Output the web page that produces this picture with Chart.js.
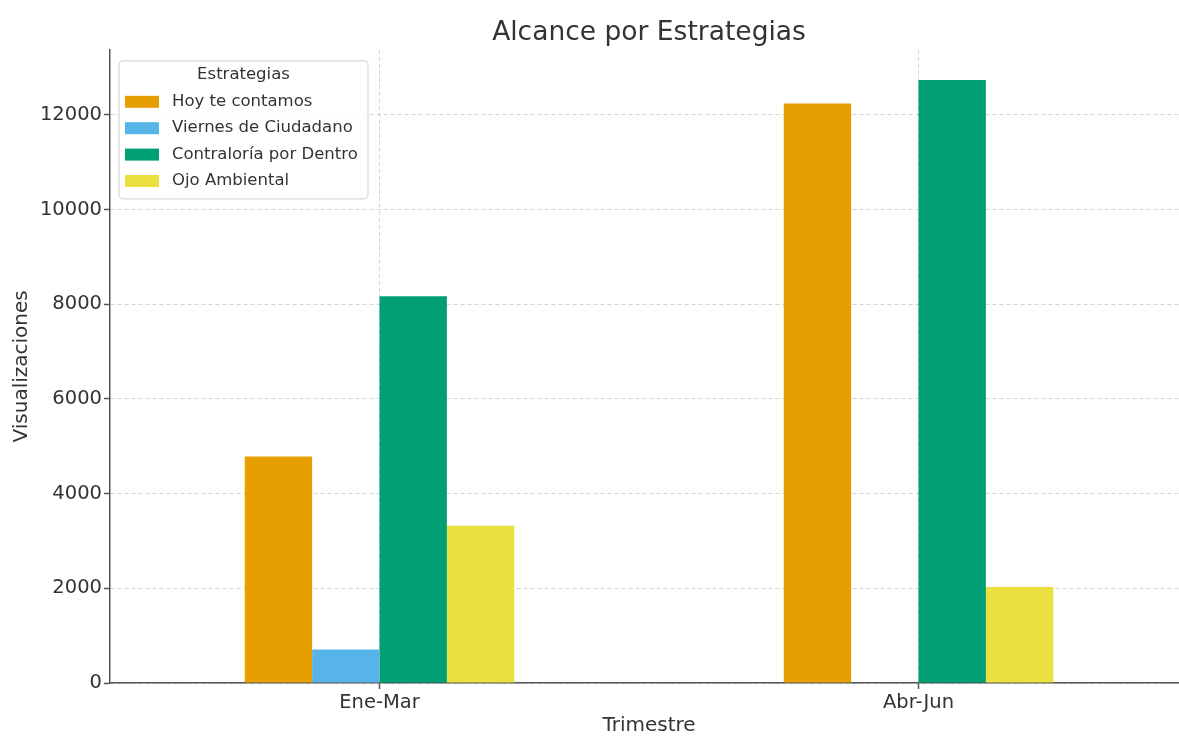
<!DOCTYPE html>
<html>
<head>
<meta charset="utf-8">
<script src="https://cdn.jsdelivr.net/npm/chart.js@4"></script>
<style>
  html, body { margin: 0; padding: 0; background: #fff; overflow: hidden; }
  #wrap { width: 1190px; height: 736px; }
</style>
</head>
<body>
<div id="wrap"><canvas id="js--chart--1"></canvas></div>
<script>
const trimestres = ["Ene-Mar", "Abr-Jun"];

const hoyTeContamos = [4785, 12240];
const viernesCiudadano = [710, 0];
const contraloriaDentro = [8170, 12740];
const ojoAmbiental = [3320, 2030];

const yTicks = [0, 2000, 4000, 6000, 8000, 10000, 12000];

const font = "DejaVu Sans";
const textColor = "#333";

// legend drawn inside the plot, like the original
const boxLegend = {
    id: "boxLegend",
    afterDraw(chart) {
        const ctx = chart.ctx;
        const area = chart.chartArea;
        const x = area.left + 9, y = area.top + 11, w = 249, h = 138;
        ctx.save();
        ctx.fillStyle = "rgba(255,255,255,0.85)";
        ctx.strokeStyle = "#d9d9d9";
        ctx.lineWidth = 1.2;
        ctx.beginPath();
        ctx.roundRect(x, y, w, h, 4);
        ctx.fill();
        ctx.stroke();

        ctx.fillStyle = textColor;
        ctx.font = "16.5px '" + font + "'";
        ctx.textBaseline = "middle";
        ctx.textAlign = "center";
        ctx.fillText("Estrategias", x + w / 2, y + 14);

        ctx.textAlign = "left";
        chart.data.datasets.forEach((ds, i) => {
            const cy = y + 41 + i * 26.4;
            ctx.fillStyle = ds.backgroundColor;
            ctx.fillRect(x + 6, cy - 6, 34, 12);
            ctx.fillStyle = textColor;
            ctx.fillText(ds.label, x + 53, cy);
        });
        ctx.restore();
    }
};

const data = {
    labels: trimestres,
    datasets: [
        { label: "Hoy te contamos", data: hoyTeContamos, backgroundColor: "#E69F00" },
        { label: "Viernes de Ciudadano", data: viernesCiudadano, backgroundColor: "#56B4E9" },
        { label: "Contraloría por Dentro", data: contraloriaDentro, backgroundColor: "#009E73" },
        { label: "Ojo Ambiental", data: ojoAmbiental, backgroundColor: "#EAE03F" },
    ]
};

const config = {
    type: "bar",
    data: data,
    plugins: [boxLegend],
    options: {
        responsive: true,
        maintainAspectRatio: false,
        animation: false,
        categoryPercentage: 0.5,
        barPercentage: 1.0,
        layout: { padding: { left: 0, right: 2, top: 0, bottom: 0 } },
        plugins: {
            legend: { display: false },
            tooltip: { enabled: false },
            title: {
                display: true,
                text: "Alcance por Estrategias",
                fullSize: false,
                color: textColor,
                font: { family: font, size: 26.5, weight: "normal" },
                padding: { top: 17, bottom: 1 }
            }
        },
        scales: {
            x: {
                grid: {
                    offset: false,
                    color: "rgba(0,0,0,0.17)",
                    lineWidth: 1,
                    tickLength: 6,
                    tickColor: "#555",
                    tickWidth: 1.5
                },
                border: { color: "#555", width: 1.5, dash: [4, 3] },
                ticks: { color: textColor, font: { family: font, size: 19.5 }, padding: 2 },
                title: {
                    display: true,
                    text: "Trimestre",
                    color: textColor,
                    font: { family: font, size: 20 },
                    padding: { top: 0, bottom: -2 }
                },
                afterFit(scale) { scale.height = 53; }
            },
            y: {
                min: 0,
                max: 13377,
                grid: {
                    color: "rgba(0,0,0,0.17)",
                    lineWidth: 1,
                    tickLength: 6,
                    tickColor: "#555",
                    tickWidth: 1.5
                },
                border: { color: "#555", width: 1.5, dash: [4, 3] },
                ticks: {
                    stepSize: 2000,
                    includeBounds: false,
                    color: textColor,
                    font: { family: font, size: 19.5 },
                    padding: 2,
                    callback: v => String(v)
                },
                afterBuildTicks(scale) {
                    scale.ticks = yTicks.map(v => ({ value: v }));
                },
                title: {
                    display: true,
                    text: "Visualizaciones",
                    color: textColor,
                    font: { family: font, size: 20 },
                    padding: { top: 10, bottom: 0 }
                },
                afterFit(scale) { scale.width = 110; }
            }
        }
    }
};

new Chart(document.getElementById("js--chart--1"), config);
</script>
</body>
</html>
